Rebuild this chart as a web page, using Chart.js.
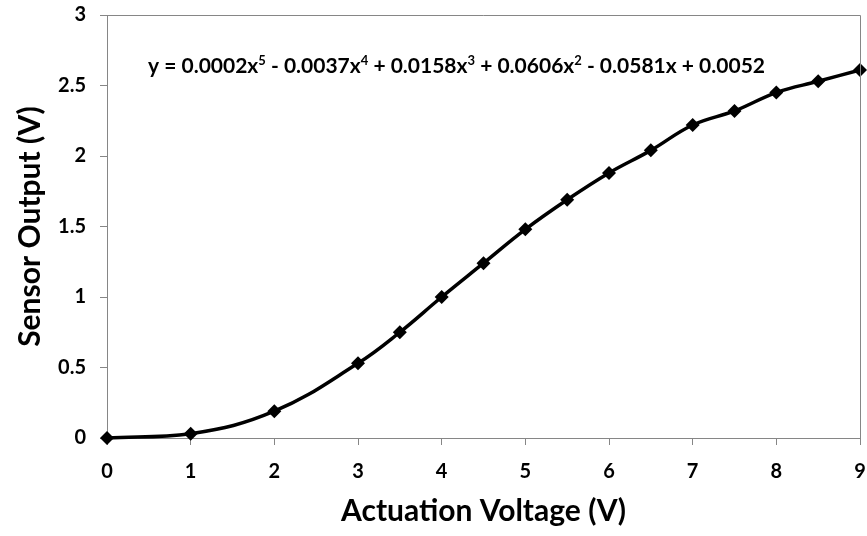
<!DOCTYPE html>
<html>
<head>
<meta charset="utf-8">
<script src="https://cdn.jsdelivr.net/npm/chart.js@4/dist/chart.umd.min.js"></script>
<style>
  html, body { margin: 0; padding: 0; background: #fff; }
  #wrap { width: 867px; height: 536px; }
</style>
</head>
<body>
<div id="wrap"><canvas id="sensorChart" width="867" height="536"></canvas></div>
<script>
const voltage = [0, 1, 2, 3, 3.5, 4, 4.5, 5, 5.5, 6, 6.5, 7, 7.5, 8, 8.5, 9];
const sensorOutput = [0, 0.03, 0.19, 0.53, 0.75, 1.00, 1.24, 1.48, 1.69, 1.88, 2.04, 2.22, 2.32, 2.45, 2.53, 2.61];

// 축 눈금
const xTicks = [0, 1, 2, 3, 4, 5, 6, 7, 8, 9];
const yTicks = [0, 0.5, 1, 1.5, 2, 2.5, 3];

// 추세선 식 (위첨자 부분은 sup)
const equationParts = [
  { text: "y = 0.0002x" }, { text: "5", sup: true },
  { text: " - 0.0037x" }, { text: "4", sup: true },
  { text: " + 0.0158x" }, { text: "3", sup: true },
  { text: " + 0.0606x" }, { text: "2", sup: true },
  { text: " - 0.0581x + 0.0052" }
];

const FONT = "Lato, 'Noto Sans', sans-serif";
const AXIS_GRAY = "#868686";

// 플롯 영역 테두리 + 추세선 식
const plotFrame = {
  id: "plotFrame",
  afterDraw(chart) {
    const { ctx, chartArea: a } = chart;
    ctx.save();
    ctx.strokeStyle = AXIS_GRAY;
    ctx.lineWidth = 1;
    ctx.beginPath();
    ctx.moveTo(a.left, a.top + 0.5);
    ctx.lineTo(a.right + 0.5, a.top + 0.5);
    ctx.lineTo(a.right + 0.5, a.bottom);
    ctx.stroke();

    // 식 텍스트
    let x = a.left + 41;
    const baseY = a.top + 58;
    ctx.fillStyle = "#000";
    ctx.textBaseline = "alphabetic";
    ctx.textAlign = "left";
    equationParts.forEach(p => {
      if (p.sup) {
        ctx.font = "bold 13px " + FONT;
        ctx.fillText(p.text, x, baseY - 8);
      } else {
        ctx.font = "bold 21px " + FONT;
        ctx.fillText(p.text, x, baseY);
      }
      x += ctx.measureText(p.text).width;
    });
    ctx.restore();
  }
};

document.addEventListener("DOMContentLoaded", () => {
  const ctx = document.getElementById("sensorChart").getContext("2d");
  new Chart(ctx, {
    type: "scatter",
    data: {
      datasets: [{
        label: "Sensor Output",
        data: voltage.map((v, i) => ({ x: v, y: sensorOutput[i] })),
        showLine: true,
        tension: 0.4,
        borderColor: "#000",
        borderWidth: 3.5,
        backgroundColor: "#000",
        pointStyle: "rectRot",
        pointRadius: 7,
        pointBorderWidth: 0,
        clip: false
      }]
    },
    options: {
      responsive: false,
      animation: false,
      layout: { padding: { left: 8, right: 5, top: 15, bottom: 3 } },
      plugins: {
        legend: { display: false },
        tooltip: { enabled: false }
      },
      scales: {
        x: {
          type: "linear",
          min: xTicks[0],
          max: xTicks[xTicks.length - 1],
          afterBuildTicks: s => { s.ticks = xTicks.map(v => ({ value: v })); },
          afterFit: s => {
            s.height = 536 - 438 - 3;
            s.paddingLeft = 0;
            s.paddingRight = 0;
          },
          border: { color: AXIS_GRAY, width: 1 },
          grid: { drawOnChartArea: false, color: AXIS_GRAY, tickLength: 7, tickWidth: 1 },
          ticks: {
            color: "#000",
            font: { family: FONT, size: 20, weight: "bold" },
            padding: 15,
            maxRotation: 0,
            callback: v => String(v)
          },
          title: {
            display: true,
            text: "Actuation Voltage (V)",
            color: "#000",
            font: { family: FONT, size: 30, weight: "bold" },
            padding: { top: 6, bottom: 4 }
          }
        },
        y: {
          min: yTicks[0],
          max: yTicks[yTicks.length - 1],
          afterBuildTicks: s => { s.ticks = yTicks.map(v => ({ value: v })); },
          afterFit: s => {
            s.width = 107 - 8;
            s.paddingTop = 0;
            s.paddingBottom = 0;
          },
          border: { color: AXIS_GRAY, width: 1 },
          grid: { drawOnChartArea: false, color: AXIS_GRAY, tickLength: 7, tickWidth: 1 },
          ticks: {
            color: "#000",
            font: { family: FONT, size: 20, weight: "bold" },
            padding: 14,
            callback: v => String(v)
          },
          title: {
            display: true,
            text: "Sensor Output (V)",
            color: "#000",
            font: { family: FONT, size: 30, weight: "bold" },
            padding: { bottom: 6 }
          }
        }
      }
    },
    plugins: [plotFrame]
  });
});
</script>
</body>
</html>
